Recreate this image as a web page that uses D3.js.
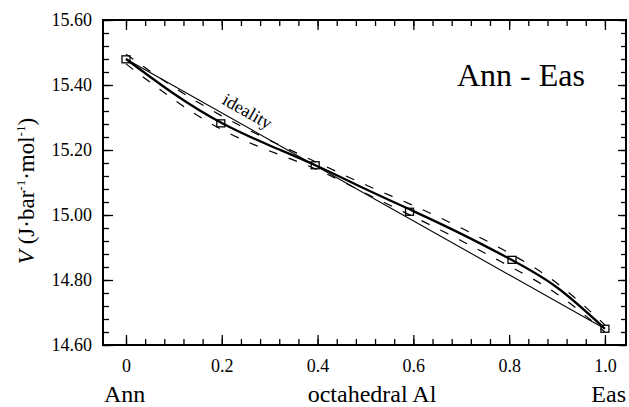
<!DOCTYPE html>
<html><head><meta charset="utf-8">
<script src="https://cdn.jsdelivr.net/npm/d3@7"></script>
<style>
html,body{margin:0;padding:0;background:#fff;}
svg{display:block;}
</style></head>
<body>
<svg id="chart" width="629" height="407"></svg>
<script>
// measured compositions (fraction of octahedral Al) and molar volumes
const sampleX = [0, 0.198, 0.395, 0.592, 0.806, 1.0];
const sampleV = [15.479, 15.282, 15.153, 15.010, 14.862, 14.650];

// fitted volume curve with its confidence envelope
const fitX = [0, 0.1, 0.2, 0.3, 0.4, 0.5, 0.6, 0.7, 0.8, 0.9, 1.0];
const fitV = [15.480, 15.373, 15.283, 15.214, 15.150, 15.080, 15.012, 14.942, 14.866, 14.777, 14.650];
const upperV = [15.495, 15.393, 15.305, 15.230, 15.161, 15.093, 15.029, 14.960, 14.883, 14.790, 14.662];
const lowerV = [15.465, 15.355, 15.263, 15.197, 15.139, 15.067, 14.995, 14.921, 14.843, 14.757, 14.640];

// ideal mixing line between the end-members
const idealX = [0, 1];
const idealV = [15.48, 14.65];

const xMajorTicks = [0, 0.2, 0.4, 0.6, 0.8, 1.0];
const xTickLabels = ["0", "0.2", "0.4", "0.6", "0.8", "1.0"];
const yMajorTicks = [14.6, 14.8, 15.0, 15.2, 15.4, 15.6];
const yTickLabels = ["14.60", "14.80", "15.00", "15.20", "15.40", "15.60"];
const xMinorTicks = d3.range(0, 26).map(i => +(i * 0.04).toFixed(2));
const yMinorTicks = d3.range(0, 26).map(i => +(14.6 + i * 0.04).toFixed(2));

const SERIF = "Liberation Serif";
const L = 103, R = 626, T = 20, B = 345;
const svg = d3.select("#chart").attr("font-family", SERIF);

const x = d3.scaleLinear().domain([-0.048, 1.044]).range([L, R]);
const y = d3.scaleLinear().domain([14.6, 15.6]).range([B, T]);

function styleAxis(g) {
  g.select(".domain").remove();
  g.attr("font-family", SERIF).attr("font-size", 18);
  g.selectAll(".tick line").attr("stroke", "#000").attr("stroke-width", 1.3);
  g.selectAll(".tick text").attr("fill", "#000");
}

// bottom axis
svg.append("g").attr("transform", `translate(0,${B})`)
  .call(d3.axisBottom(x).tickValues(xMinorTicks).tickSize(-6).tickFormat(""))
  .call(styleAxis);
svg.append("g").attr("transform", `translate(0,${B})`)
  .call(d3.axisBottom(x).tickValues(xMajorTicks).tickSize(-10).tickPadding(14)
    .tickFormat((d, i) => xTickLabels[i]))
  .call(styleAxis);
// top axis
svg.append("g").attr("transform", `translate(0,${T})`)
  .call(d3.axisTop(x).tickValues(xMinorTicks).tickSize(-6).tickFormat(""))
  .call(styleAxis);
svg.append("g").attr("transform", `translate(0,${T})`)
  .call(d3.axisTop(x).tickValues(xMajorTicks).tickSize(-10).tickFormat(""))
  .call(styleAxis);
// left axis
svg.append("g").attr("transform", `translate(${L},0)`)
  .call(d3.axisLeft(y).tickValues(yMinorTicks).tickSize(-6).tickFormat(""))
  .call(styleAxis);
svg.append("g").attr("transform", `translate(${L},0)`)
  .call(d3.axisLeft(y).tickValues(yMajorTicks).tickSize(-10).tickPadding(11)
    .tickFormat((d, i) => yTickLabels[i]))
  .call(styleAxis);
// right axis
svg.append("g").attr("transform", `translate(${R},0)`)
  .call(d3.axisRight(y).tickValues(yMinorTicks).tickSize(-5).tickFormat(""))
  .call(styleAxis);
svg.append("g").attr("transform", `translate(${R},0)`)
  .call(d3.axisRight(y).tickValues(yMajorTicks).tickSize(-8).tickFormat(""))
  .call(styleAxis);

// plot frame
svg.append("rect")
  .attr("x", L).attr("y", T).attr("width", R - L).attr("height", B - T)
  .attr("fill", "none").attr("stroke", "#000").attr("stroke-width", 2);

const line = d3.line().x(d => x(d[0])).y(d => y(d[1])).curve(d3.curveNatural);

// ideal line
svg.append("path")
  .datum(idealX.map((d, i) => [d, idealV[i]]))
  .attr("d", d3.line().x(d => x(d[0])).y(d => y(d[1])))
  .attr("fill", "none").attr("stroke", "#000").attr("stroke-width", 1.1);

// confidence envelope
[upperV, lowerV].forEach(vals => {
  svg.append("path")
    .datum(fitX.map((d, i) => [d, vals[i]]))
    .attr("d", line)
    .attr("fill", "none").attr("stroke", "#000").attr("stroke-width", 1.2)
    .attr("stroke-dasharray", "9,12");
});

// fitted curve
svg.append("path")
  .datum(fitX.map((d, i) => [d, fitV[i]]))
  .attr("d", line)
  .attr("fill", "none").attr("stroke", "#000").attr("stroke-width", 2.3);

// measured points
svg.append("g").selectAll("rect")
  .data(sampleX.map((d, i) => [d, sampleV[i]]))
  .join("rect")
  .attr("x", d => x(d[0]) - 4).attr("y", d => y(d[1]) - 3.5)
  .attr("width", 8).attr("height", 7)
  .attr("fill", "none").attr("stroke", "#000").attr("stroke-width", 1.3);

// "ideality" label along the ideal line
const ang = Math.atan2(y(idealV[1]) - y(idealV[0]), x(idealX[1]) - x(idealX[0])) * 180 / Math.PI;
const lx = 0.19, lv = idealV[0] + (idealV[1] - idealV[0]) * lx;
svg.append("text")
  .attr("transform", `translate(${x(lx)},${y(lv)}) rotate(${ang})`)
  .attr("dy", -8)
  .attr("font-size", 18)
  .text("ideality");

// system title
svg.append("text").attr("x", 457).attr("y", 86)
  .attr("font-size", 32).text("Ann - Eas");

// x-axis captions
svg.append("text").attr("x", L + 1).attr("y", 402)
  .attr("font-size", 24).text("Ann");
svg.append("text").attr("x", 372).attr("y", 402)
  .attr("font-size", 24).attr("text-anchor", "middle").text("octahedral Al");
svg.append("text").attr("x", R).attr("y", 402)
  .attr("font-size", 24).attr("text-anchor", "end").text("Eas");

// y-axis caption
const yl = svg.append("text")
  .attr("transform", "translate(33.5,191) rotate(-90)")
  .attr("text-anchor", "middle").attr("font-size", 23);
yl.append("tspan").attr("font-style", "italic").text("V");
yl.append("tspan").text(" (J·bar");
yl.append("tspan").attr("font-size", 13).attr("dy", -9).text("-1");
yl.append("tspan").attr("dy", 9).text("·mol");
yl.append("tspan").attr("font-size", 13).attr("dy", -9).text("-1");
yl.append("tspan").attr("dy", 9).text(")");
</script>
</body></html>
